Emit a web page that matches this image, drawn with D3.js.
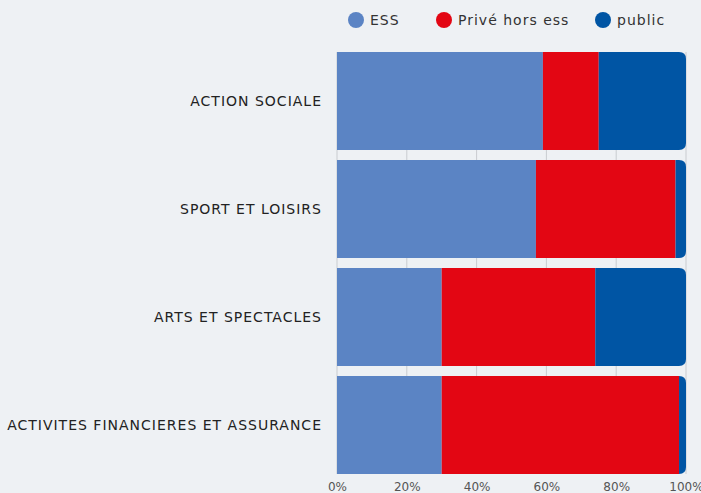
<!DOCTYPE html>
<html><head><meta charset="utf-8">
<script src="https://cdn.jsdelivr.net/npm/d3@7/dist/d3.min.js"></script>
<style>
html,body{margin:0;padding:0;background:#eef1f4;}
svg{display:block;}
</style></head>
<body>
<svg id="chart" width="701" height="493"></svg>
<script>
const categories = ["ACTION SOCIALE","SPORT ET LOISIRS","ARTS ET SPECTACLES","ACTIVITES FINANCIERES ET ASSURANCE"];
const seriesNames = ["ESS","Privé hors ess","public"];
const seriesColors = ["#5b84c4","#e30613","#0055a4"];
const essValues = [59, 57, 30, 30];
const priveValues = [16, 40, 44, 68];
const publicValues = [25, 3, 26, 2];
const tickLabels = ["0%","20%","40%","60%","80%","100%"];

const svg = d3.select("#chart");
const W = 701, H = 493;
const margin = {left: 337, right: 15, top: 52, bottom: 19};

svg.append("rect").attr("width", W).attr("height", H).attr("fill", "#eef1f4");

const x = d3.scaleLinear().domain([0, 100]).range([margin.left, W - margin.right]);
const y = d3.scaleBand().domain(categories).range([margin.top, H - margin.bottom]).paddingInner(0.0926).paddingOuter(0);

// gridlines
svg.append("g").selectAll("line").data(d3.range(0, 101, 20)).join("line")
  .attr("x1", d => x(d)).attr("x2", d => x(d))
  .attr("y1", margin.top).attr("y2", H - margin.bottom)
  .attr("stroke", "#c9ccd0").attr("stroke-width", 1);

const data = categories.map((c, i) => ({cat: c, ESS: essValues[i], "Privé hors ess": priveValues[i], public: publicValues[i]}));
const stacked = d3.stack().keys(seriesNames)(data);

const defs = svg.append("defs");
const r = 7;
categories.forEach((c, i) => {
  const x0 = x(0), x1 = x(100), y0 = y(c), h = y.bandwidth();
  const p = `M${x0},${y0} H${x1 - r} Q${x1},${y0} ${x1},${y0 + r} V${y0 + h - r} Q${x1},${y0 + h} ${x1 - r},${y0 + h} H${x0} Z`;
  defs.append("clipPath").attr("id", "clip" + i).append("path").attr("d", p);
});

categories.forEach((c, i) => {
  const row = svg.append("g").attr("clip-path", `url(#clip${i})`);
  stacked.forEach((s, k) => {
    const d = s[i];
    row.append("rect")
      .attr("x", x(d[0])).attr("y", y(c))
      .attr("width", x(d[1]) - x(d[0])).attr("height", y.bandwidth())
      .attr("fill", seriesColors[k]);
  });
});

// category labels
svg.selectAll("text.cat").data(categories).join("text")
  .attr("class", "cat")
  .attr("x", 322).attr("y", d => y(d) + y.bandwidth() / 2)
  .attr("text-anchor", "end").attr("dominant-baseline", "central")
  .attr("font-family", "DejaVu Sans").attr("font-size", 14)
  .attr("letter-spacing", 1.0)
  .attr("fill", "#222").text(d => d);

// x axis tick labels
const axis = d3.axisBottom(x).tickValues(d3.range(0, 101, 20)).tickFormat((d, i) => tickLabels[i]).tickSize(0).tickPadding(0);
const ax = svg.append("g").attr("transform", `translate(0, ${H - 6})`).call(axis);
ax.select(".domain").remove();
ax.selectAll("text").attr("font-family", "DejaVu Sans").attr("font-size", 12).attr("fill", "#555").attr("dy", "0.35em").attr("y", 0);

// legend
const legendX = [356, 444, 603];
const leg = svg.append("g");
seriesNames.forEach((n, i) => {
  leg.append("circle").attr("cx", legendX[i]).attr("cy", 20).attr("r", 8).attr("fill", seriesColors[i]);
  leg.append("text").attr("x", legendX[i] + 14).attr("y", 20).attr("dominant-baseline", "central")
    .attr("font-family", "DejaVu Sans").attr("font-size", 14).attr("letter-spacing", 1)
    .attr("fill", "#333").text(n);
});
</script>
</body></html>
